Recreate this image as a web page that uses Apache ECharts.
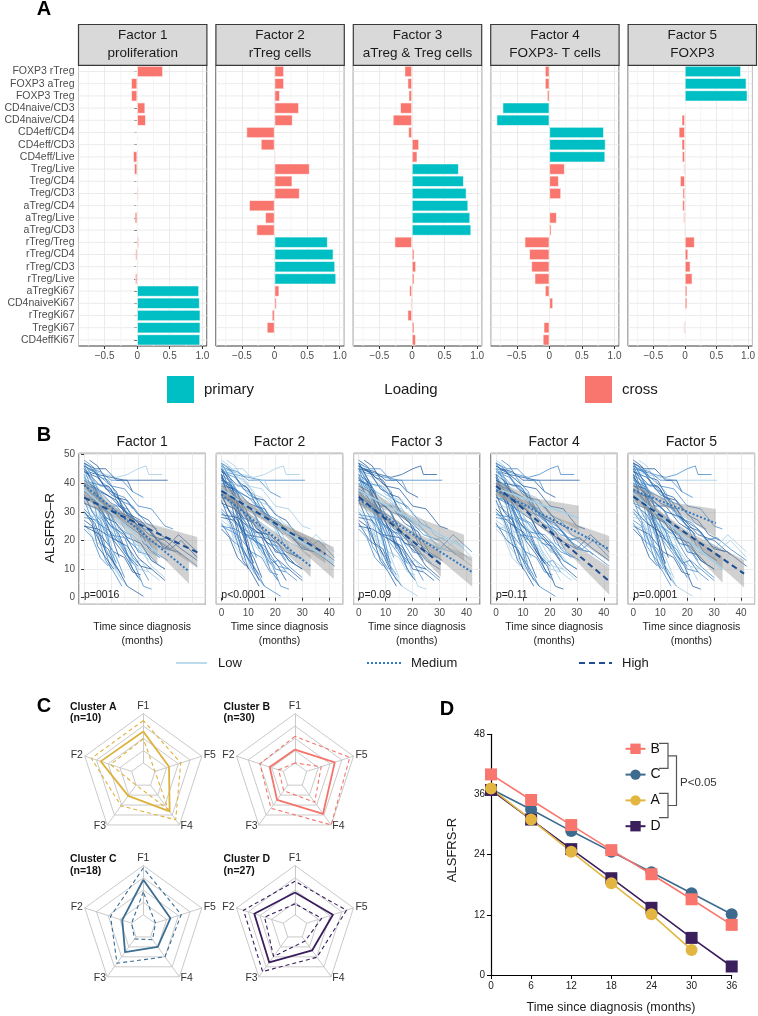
<!DOCTYPE html>
<html><head><meta charset="utf-8">
<script src="https://cdn.jsdelivr.net/npm/echarts@6/dist/echarts.min.js"></script>
<style>html,body{margin:0;padding:0;background:#fff}#c{width:758px;height:1016px}</style>
</head><body><div id="c"></div>
<script>
// ================= DATA =================
// ---- Panel A : factor loadings ----
const markers = ['FOXP3 rTreg','FOXP3 aTreg','FOXP3 Treg','CD4naive/CD3','CD4naive/CD4','CD4eff/CD4','CD4eff/CD3','CD4eff/Live','Treg/Live','Treg/CD4','Treg/CD3','aTreg/CD4','aTreg/Live','aTreg/CD3','rTreg/Treg','rTreg/CD4','rTreg/CD3','rTreg/Live','aTregKi67','CD4naiveKi67','rTregKi67','TregKi67','CD4effKi67'];
const factorNames = ['Factor 1','Factor 2','Factor 3','Factor 4','Factor 5'];
const factorSubtitles = ['proliferation','rTreg cells','aTreg & Treg cells','FOXP3- T cells','FOXP3'];
const loadingF1 = [0.395,-0.092,-0.092,0.123,0.133,0.010,0.010,-0.062,-0.046,-0.005,0.020,-0.005,-0.036,0.015,0.026,-0.026,-0.010,-0.031,0.949,0.959,0.969,0.969,0.965];
const loadingF2 = [0.144,0.144,0.082,0.374,0.277,-0.431,-0.210,0.015,0.538,0.272,0.385,-0.390,-0.144,-0.277,0.815,0.903,0.928,0.944,0.072,0.031,-0.041,-0.118,0.005];
const loadingF3 = [-0.113,-0.067,-0.051,-0.180,-0.292,-0.056,0.108,0.082,0.718,0.795,0.836,0.862,0.892,0.908,-0.267,0.036,0.062,0.036,-0.041,-0.021,-0.067,0.036,0.060];
const loadingF4 = [-0.067,-0.067,-0.036,-0.718,-0.810,0.836,0.862,0.856,0.236,0.144,0.179,-0.010,0.113,0.031,-0.379,-0.308,-0.277,-0.226,-0.067,0.056,0.015,-0.087,-0.100];
const loadingF5 = [0.887,0.974,0.990,0.010,-0.051,-0.097,-0.051,-0.046,-0.021,-0.077,-0.036,-0.041,-0.026,-0.015,0.154,0.051,0.087,0.118,0.036,0.036,0.010,-0.021,0.005];
const primaryF1 = ['aTregKi67','CD4naiveKi67','rTregKi67','TregKi67','CD4effKi67'];
const primaryF2 = ['rTreg/Treg','rTreg/CD4','rTreg/CD3','rTreg/Live'];
const primaryF3 = ['Treg/Live','Treg/CD4','Treg/CD3','aTreg/CD4','aTreg/Live','aTreg/CD3'];
const primaryF4 = ['CD4naive/CD3','CD4naive/CD4','CD4eff/CD4','CD4eff/CD3','CD4eff/Live'];
const primaryF5 = ['FOXP3 rTreg','FOXP3 aTreg','FOXP3 Treg'];
const loadingMinorTicks = [-0.75,-0.25,0.25,0.75];
const loadingLegend = ['primary','Loading','cross'];

// ---- Panel B : ALSFRS-R trajectories ----
const trajectories = [
 [[0,47],[3,45],[7,40],[10,38],[13,32],[16,31],[19,26],[23,22]],
 [[0,46],[2,42],[5,37],[7,28],[10,22],[13,14]],
 [[0,45],[4,44],[8,43],[12,42],[16,43],[20,45],[23,46],[24,43],[29,43]],
 [[1,44],[5,43],[10,42],[15,41],[20,41],[25,41],[31,41]],
 [[0,43],[2,37],[4,32],[6,22],[8,16],[10,10]],
 [[2,48],[5,46],[9,40],[12,37],[15,29],[19,26],[22,19],[25,17]],
 [[0,42],[4,38],[7,31],[10,29],[13,24],[17,22],[20,16],[24,15],[27,12]],
 [[0,40],[6,37],[12,34],[17,28],[22,26],[27,20],[31,21],[36,17],[42,13]],
 [[0,38],[5,35],[9,28],[13,26],[17,19],[21,18],[25,13],[30,10]],
 [[0,36],[3,30],[6,25],[8,17],[11,12],[14,8]],
 [[0,35],[6,32],[12,28],[18,24],[24,20],[30,17],[35,22],[42,16]],
 [[0,34],[3,27],[5,22],[8,13],[11,9],[14,4]],
 [[1,32],[5,29],[9,22],[14,19],[18,12],[21,13],[24,9]],
 [[0,30],[3,26],[5,18],[8,14],[11,10]],
 [[0,28],[5,27],[9,22],[15,21],[21,16]],
 [[0,26],[4,20],[8,17],[12,9],[16,4]],
 [[0,25],[6,22],[11,16],[15,14],[18,9],[21,8]],
 [[0,24],[3,21],[6,14],[9,11]],
 [[0,47],[2,44],[5,38],[7,34],[10,26],[13,22],[16,15],[20,11]],
 [[0,45],[3,41],[6,33],[9,29],[12,21],[15,18],[18,10],[21,6]],
 [[0,44],[5,42],[10,36],[14,34],[19,27],[24,24],[29,18],[34,16]],
 [[0,43],[4,40],[7,34],[11,31],[15,24],[19,20],[24,13]],
 [[0,41],[3,40],[6,34],[9,31],[12,24],[15,21],[18,14],[21,11],[24,6]],
 [[0,40],[4,34],[7,29],[11,20],[15,15],[20,7]],
 [[0,39],[5,38],[10,33],[15,31],[20,25],[25,23],[30,17],[35,16],[42,11]],
 [[0,37],[4,32],[8,28],[12,20],[16,17],[20,10],[24,9],[28,6]],
 [[0,37],[6,35],[12,30],[18,28],[24,22],[30,20],[36,15]],
 [[0,36],[3,30],[6,27],[9,19],[12,14],[15,7]],
 [[0,46],[4,44],[8,38],[12,36],[16,29],[20,25],[24,17],[28,14]],
 [[0,48],[3,46],[6,42],[9,41],[12,36],[15,35],[18,31]],
 [[0,42],[2,37],[4,34],[7,25],[9,20],[11,12]],
 [[0,41],[5,38],[10,35],[15,30],[21,27],[27,20],[32,17],[36,20],[42,14]],
 [[0,39],[4,37],[8,32],[12,32],[17,26],[22,23],[26,16],[31,13]],
 [[0,33],[5,31],[10,25],[15,22],[20,14],[25,10],[30,6]],
 [[0,31],[5,26],[10,23],[15,16],[19,11],[22,4],[25,3]],
 [[0,29],[6,28],[12,23],[18,22],[24,16],[29,14]],
 [[0,27],[3,25],[6,19],[9,17],[12,10]],
 [[2,45],[6,44],[10,41],[14,41],[18,37],[22,35]],
 [[0,44],[3,42],[6,39],[9,39],[12,35],[16,34],[20,29],[24,27],[28,22],[32,20]],
 [[0,38],[3,34],[6,32],[9,26],[12,23],[15,16],[18,12]],
 [[0,47],[3,42],[6,37],[9,28],[12,23],[14,17]],
 [[0,35],[4,34],[8,28],[12,26],[16,21],[21,19],[25,13],[30,10]],
 [[3,40],[8,39],[13,34],[18,32],[23,26],[27,24]],
 [[0,25],[5,24],[10,21],[16,18],[21,11],[25,10]],
 [[0,43],[2,39],[5,35],[8,25],[10,19],[12,10],[14,6]],
 [[0,46],[5,43],[10,39],[15,38],[20,32],[25,31],[30,25],[33,24]],
 [[0,30],[4,26],[8,16],[12,11],[16,4],[22,0.5]],
 [[0,45],[2,40],[4,37],[6,29],[8,25],[10,16],[12,12]],
 [[0,41],[4,39],[8,33],[12,30],[16,22],[20,18],[25,11],[30,7]],
 [[0,47],[4,45],[8,45],[12,41],[16,41],[18,37]]
];
// group of each patient per factor: 0 = Low, 1 = Medium, 2 = High
const groupF1 = [1,2,0,2,1,2,1,2,0,1, 2,1,0,2,1,0,2,1,2,1, 2,0,1,2,1,0,2,1,2,1, 0,2,1,2,1,0,2,1,2,1, 0,2,1,2,0,1,2,1,0,2];
const groupF2 = [2,1,0,1,2,0,2,1,1,2, 0,2,1,0,2,1,1,2,0,2, 1,1,2,0,2,1,0,2,1,0, 2,1,0,2,1,2,0,1,2,0, 1,2,0,1,2,0,1,2,1,0];
const groupF3 = [0,1,2,1,0,2,1,0,2,1, 1,2,0,1,2,2,0,1,1,2, 0,2,1,1,0,2,1,0,2,2, 1,0,2,1,0,1,2,2,0,1, 2,0,1,2,1,2,0,1,2,1];
const groupF4 = [1,0,1,2,2,1,0,2,1,0, 2,2,1,0,1,2,1,0,2,1, 1,2,0,2,1,0,1,2,1,0, 2,1,1,0,2,1,0,2,1,2, 0,1,2,0,1,2,1,0,2,1];
const groupF5 = [2,2,1,0,1,0,2,1,2,1, 0,1,2,1,0,1,2,2,1,0, 2,1,0,1,2,1,2,0,1,2, 1,0,2,1,2,0,1,1,2,0, 1,2,1,0,2,1,0,2,1,2];
const groupNames = ['Low','Medium','High'];
const pValues = ['p=0016','p<0.0001','p=0.09','p=0.11','p=0.0001'];
// fitted lines per factor: [xStart, yStart, xEnd, yEnd]
const fitLow    = [[0,37.8,27.2,15.6],[0,38.0,41.7,12.1],[0,37.5,39.1,17.4],[0,38.2,30.7,27.8],[0,36.5,33.1,9.8]];
const fitMedium = [[0,39.3,38.9,9.2],[0,36.0,33.1,11.0],[0,34.3,42.1,8.9],[0,37.5,42.0,17.0],[0,37.6,30.6,26.0]];
const fitHigh   = [[0,34.9,42.0,15.8],[0,37.3,38.6,15.3],[0,35.2,30.5,11.6],[0,39.0,42.0,5.8],[0,35.3,41.1,8.4]];
// confidence bands per factor: rows [x, lower, upper]
const bandLow = [
 [[0,35.4,40.2],[13.6,25.5,27.9],[27.2,11.6,19.6]],
 [[0,35.8,40.2],[20.8,23.8,26.3],[41.7,6.5,17.7]],
 [[0,35.2,39.8],[19.5,26.2,28.7],[39.1,12.8,22.0]],
 [[0,35.6,40.8],[15.3,31.5,34.5],[30.7,23.5,32.1]],
 [[0,34.3,38.7],[16.5,21.8,24.5],[33.1,5.2,14.4]]];
const bandMedium = [
 [[0,37.3,41.3],[19.4,23.1,25.4],[38.9,4.9,13.5]],
 [[0,34.0,38.0],[16.5,22.3,24.7],[33.1,7.2,14.8]],
 [[0,32.3,36.3],[21.0,20.5,22.7],[42.1,3.8,14.0]],
 [[0,35.5,39.5],[21.0,26.1,28.4],[42.0,12.5,21.5]],
 [[0,35.3,39.9],[15.3,30.5,33.1],[30.6,21.0,31.0]]];
const bandHigh = [
 [[0,32.6,37.2],[21.0,24.0,26.7],[42.0,10.4,21.2]],
 [[0,35.5,39.1],[19.3,25.3,27.3],[38.6,11.9,18.7]],
 [[0,33.2,37.2],[15.2,22.3,24.5],[30.5,7.3,15.9]],
 [[0,37.0,41.0],[21.0,21.2,23.6],[42.0,1.0,10.6]],
 [[0,33.5,37.1],[20.5,20.8,22.9],[41.1,3.6,13.2]]];
const minorMonths = [5,15,25,35];
const minorScores = [5,15,25,35,45];

// ---- Panel C : radar profiles (scale 0-10) ----
const radarAxes = ['F1','F2','F3','F4','F5'];
const clusterTitles = ['Cluster A','Cluster B','Cluster C','Cluster D'];
const clusterSizes = ['(n=10)','(n=30)','(n=18)','(n=27)'];
const clusterAMedian = [6.4,6.6,2.7,6.6,3.0], clusterAUpper = [8.6,8.6,5.2,8.7,5.5], clusterALower = [4.9,4.5,0.0,6.1,0.0];
const clusterBMedian = [2.7,2.9,3.7,7.2,6.0], clusterBUpper = [5.4,5.0,5.8,10,9.2], clusterBLower = [0.0,1.0,1.4,4.3,3.1];
const clusterCMedian = [7.1,2.0,3.8,2.5,3.3], clusterCUpper = [9.5,4.5,6.6,5.0,5.6], clusterCLower = [4.6,0.0,0.5,0.7,0.1];
const clusterDMedian = [4.5,6.2,6.4,3.4,5.6], clusterDUpper = [6.8,8.5,8.7,5.1,8.5], clusterDLower = [2.2,4.0,4.9,1.0,3.2];

// ---- Panel D : ALSFRS-R by cluster ----
const visitMonths = [0,6,12,18,24,30,36];
const scoreB = [40.0,34.9,29.9,24.9,20.1,15.1,10.0];
const scoreC = [37.1,33.0,28.7,24.6,20.5,16.3,12.1];
const scoreA = [37.2,31.0,24.6,18.3,12.1,5.0,null];
const scoreD = [36.9,31.0,25.1,19.3,13.4,7.4,1.7];
const pLabel = 'P<0.05';

// ================= STYLE / LAYOUT =================
const FONT = 'Liberation Sans, Arial, Helvetica, sans-serif';
const TEAL = '#00BFC4', SALMON = '#F8766D';
const A_LEFT0 = 78.5, A_STEP = 137.4, A_W = 128.4, A_TOP = 65.4, A_H = 280.6, STRIP_TOP = 24.5;
const B_LEFT0 = 79, B_STEP = 137.3, B_W = 126.4, B_TOP = 453.3, B_H = 151;
const lineColors = ['#9ECAE1','#3F86C8','#1F5A9E'];
const fitColors = ['#A6CFE6','#2F78C0','#1D4E92'];
const fitTypes = ['solid',[2,2],[6,4]];
const clusterColors = ['#DDB23B','#F4746B','#3B6E93','#3A1D5D'];
const radarCenters = [[143.3,775.2],[295,775.2],[143.3,927],[295,927]];
const R_OUT = 61.5;

const loadings = [loadingF1,loadingF2,loadingF3,loadingF4,loadingF5];
const primaries = [primaryF1,primaryF2,primaryF3,primaryF4,primaryF5];
const groups = [groupF1,groupF2,groupF3,groupF4,groupF5];
const fits = [fitLow,fitMedium,fitHigh];
const bands = [bandLow,bandMedium,bandHigh];
const radarData = [
  [clusterAUpper,clusterALower,clusterAMedian],
  [clusterBUpper,clusterBLower,clusterBMedian],
  [clusterCUpper,clusterCLower,clusterCMedian],
  [clusterDUpper,clusterDLower,clusterDMedian]];

const grids = [], xAxes = [], yAxes = [], series = [], graphics = [];
function txt(x, y, text, o) {
  o = o || {};
  graphics.push({type:'text', x, y, rotation:o.rotation||0, silent:true, z:10,
    style:{text, fill:o.color||'#1a1a1a', fontSize:o.size||12, fontWeight:o.weight||'normal',
      fontFamily:FONT, align:o.align||'center', verticalAlign:o.valign||'middle',
      textAlign:o.align||'center', textVerticalAlign:o.valign||'middle'}});
}
const signed = v => (v < 0 ? '\u2212' : '') + (Math.abs(v) === 1 ? '1.0' : String(Math.abs(v)));

// ---------- Panel A ----------
for (let f = 0; f < 5; f++) {
  const left = A_LEFT0 + f * A_STEP;
  grids.push({left, top:A_TOP, width:A_W, height:A_H, show:true, borderColor:'#3a3a3a', borderWidth:1, backgroundColor:'#fff'});
  xAxes.push({gridIndex:f, type:'value', min:-0.9, max:1.07, splitNumber:4,
    axisLine:{show:false}, axisTick:{show:true, length:3, lineStyle:{color:'#333'}},
    axisLabel:{fontSize:10, color:'#4D4D4D', fontFamily:FONT, margin:5, showMinLabel:false, showMaxLabel:false, formatter:signed},
    splitLine:{show:true, lineStyle:{color:'#E6E6E6', width:0.8}}});
  yAxes.push({gridIndex:f, type:'category', data:markers, inverse:true,
    axisLine:{show:false}, axisTick:{show:f===0, length:3, interval:0, alignWithLabel:true, lineStyle:{color:'#333'}},
    axisLabel:{show:f===0, interval:0, fontSize:10.5, color:'#4D4D4D', fontFamily:FONT, margin:4},
    splitLine:{show:false}});
  series.push({type:'custom', xAxisIndex:f, yAxisIndex:f, silent:true, z:1, encode:{x:0, y:1},
    data: markers.map((m, i) => [0, i]),
    renderItem:(params, api) => {
      const cs = params.coordSys; const y = api.coord([0, api.value(1)])[1];
      return {type:'line', shape:{x1:cs.x, y1:y, x2:cs.x + cs.width, y2:y}, style:{stroke:'#E6E6E6', lineWidth:0.8}};
    }});
  series.push({type:'custom', xAxisIndex:f, yAxisIndex:f, silent:true, z:1, encode:{x:0, y:1},
    data: loadingMinorTicks.map(v => [v, 0]),
    renderItem:(params, api) => {
      const cs = params.coordSys; const x = api.coord([api.value(0), 0])[0];
      return {type:'line', shape:{x1:x, y1:cs.y, x2:x, y2:cs.y + cs.height}, style:{stroke:'#F2F2F2', lineWidth:0.8}};
    }});
  series.push({type:'bar', xAxisIndex:f, yAxisIndex:f, z:3, barWidth:'90%', silent:true,
    data: loadings[f].map((v, i) => ({value:v, itemStyle:{color: primaries[f].includes(markers[i]) ? TEAL : SALMON}})),
    itemStyle:{borderColor:'#fff', borderWidth:0.6}});
  graphics.push({type:'rect', silent:true, z:5, shape:{x:left, y:STRIP_TOP, width:A_W, height:A_TOP - STRIP_TOP},
    style:{fill:'#D9D9D9', stroke:'#3a3a3a', lineWidth:1.2}});
  txt(left + A_W / 2, 35.5, factorNames[f], {size:13.5});
  txt(left + A_W / 2, 53, factorSubtitles[f], {size:13.5});
}
txt(44, 9, 'A', {size:20, weight:'bold', color:'#000'});
graphics.push({type:'rect', silent:true, shape:{x:167, y:376, width:27, height:27}, style:{fill:TEAL}});
txt(204, 390, loadingLegend[0], {size:15, align:'left'});
txt(411, 390, loadingLegend[1], {size:15});
graphics.push({type:'rect', silent:true, shape:{x:585, y:376, width:27, height:27}, style:{fill:SALMON}});
txt(622, 390, loadingLegend[2], {size:15, align:'left'});

// ---------- Panel B ----------
for (let f = 0; f < 5; f++) {
  const gi = 5 + f;
  const left = B_LEFT0 + f * B_STEP;
  grids.push({left, top:B_TOP, width:B_W, height:B_H, show:true, borderColor:'#3a3a3a', borderWidth:1, backgroundColor:'#fff'});
  xAxes.push({gridIndex:gi, type:'value', min:-1.9, max:45, splitNumber:5,
    axisLine:{show:false}, axisTick:{show:f > 0, length:3, lineStyle:{color:'#333'}},
    axisLabel:{show:f > 0, fontSize:10, color:'#4D4D4D', fontFamily:FONT, margin:4, showMinLabel:false, showMaxLabel:false},
    splitLine:{show:true, lineStyle:{color:'#E6E6E6', width:0.8}}});
  yAxes.push({gridIndex:gi, type:'value', min:-2.3, max:50.4, splitNumber:5,
    axisLine:{show:false}, axisTick:{show:f === 0, length:3, lineStyle:{color:'#333'}},
    axisLabel:{show:f === 0, fontSize:10, color:'#4D4D4D', fontFamily:FONT, margin:4, showMinLabel:false, showMaxLabel:false},
    splitLine:{show:true, lineStyle:{color:'#E6E6E6', width:0.8}}});
  series.push({type:'custom', xAxisIndex:gi, yAxisIndex:gi, silent:true, z:1, encode:{x:0, y:1},
    data: minorMonths.map(v => [v, 0]),
    renderItem:(params, api) => {
      const cs = params.coordSys; const x = api.coord([api.value(0), 0])[0];
      return {type:'line', shape:{x1:x, y1:cs.y, x2:x, y2:cs.y + cs.height}, style:{stroke:'#F3F3F3', lineWidth:0.8}};
    }});
  series.push({type:'custom', xAxisIndex:gi, yAxisIndex:gi, silent:true, z:1, encode:{x:0, y:1},
    data: minorScores.map(v => [0, v]),
    renderItem:(params, api) => {
      const cs = params.coordSys; const y = api.coord([0, api.value(1)])[1];
      return {type:'line', shape:{x1:cs.x, y1:y, x2:cs.x + cs.width, y2:y}, style:{stroke:'#F3F3F3', lineWidth:0.8}};
    }});
  trajectories.forEach((tr, p) => {
    series.push({type:'line', xAxisIndex:gi, yAxisIndex:gi, data:tr, symbol:'none', silent:true, z:2,
      lineStyle:{color:lineColors[groups[f][p]], width:0.75}});
  });
  for (let g = 0; g < 3; g++) {
    const band = bands[g][f];
    series.push({type:'custom', xAxisIndex:gi, yAxisIndex:gi, silent:true, z:3, encode:{x:0, y:[1,2]},
      data: band,
      renderItem:(params, api) => {
        if (params.dataIndex !== 0) return null;
        const up = band.map(r => api.coord([r[0], r[2]]));
        const lo = band.map(r => api.coord([r[0], r[1]])).reverse();
        return {type:'polygon', shape:{points:up.concat(lo)}, style:{fill:'rgba(145,145,145,0.42)'}};
      }});
  }
  for (let g = 0; g < 3; g++) {
    const ft = fits[g][f];
    series.push({type:'line', xAxisIndex:gi, yAxisIndex:gi, silent:true, z:4, symbol:'none',
      data:[[ft[0], ft[1]], [ft[2], ft[3]]],
      lineStyle:{color:fitColors[g], width:g === 0 ? 1.5 : 2, type:fitTypes[g]}});
  }
  txt(left + B_W / 2, 442.5, factorNames[f], {size:14});
  txt(left + 5, 595, pValues[f], {size:10.5, align:'left'});
  txt(left + B_W / 2, 627.5, 'Time since diagnosis', {size:10.5, color:'#222'});
  txt(left + B_W / 2, 641, '(months)', {size:10.5, color:'#222'});
}
txt(44, 435, 'B', {size:20, weight:'bold', color:'#000'});
txt(50, 528, 'ALSFRS\u2013R', {size:13.5, rotation:Math.PI / 2});
const legXs = [[176,207,218],[367,401,411],[579,612,622]];
legXs.forEach((lx, g) => {
  graphics.push({type:'line', silent:true, shape:{x1:lx[0], y1:663, x2:lx[1], y2:663},
    style:{stroke:fitColors[g], lineWidth:g === 0 ? 1.5 : 2, lineDash:g === 0 ? null : fitTypes[g]}});
  txt(lx[2], 663, groupNames[g], {size:13, align:'left'});
});

// ---------- Panel C ----------
const radars = radarCenters.map(c => ({
  center:c, radius:[R_OUT * 0.2, R_OUT], startAngle:90, splitNumber:4, shape:'polygon',
  indicator: radarAxes.map(n => ({name:n, min:0, max:10})),
  axisName:{color:'#333', fontSize:10.5, fontFamily:FONT}, nameGap:2,
  axisLine:{lineStyle:{color:'#CACACA', width:1}},
  splitLine:{lineStyle:{color:'#CACACA', width:1}},
  splitArea:{show:false}, axisLabel:{show:false}, axisTick:{show:false}
}));
radarData.forEach((sets, i) => {
  series.push({type:'radar', radarIndex:i, symbol:'none', silent:true, z:3,
    data:[
      {value:sets[0], lineStyle:{color:clusterColors[i], width:1.1, type:[4,3]}},
      {value:sets[1], lineStyle:{color:clusterColors[i], width:1.1, type:[4,3]}},
      {value:sets[2], lineStyle:{color:clusterColors[i], width:1.8, type:'solid'}}]});
  const tx = i % 2 === 0 ? 70 : 223.5;
  const ty = i < 2 ? 706.7 : 859.3;
  txt(tx, ty, clusterTitles[i], {size:10.5, weight:'bold', align:'left', color:'#111'});
  txt(tx, ty + 11.8, clusterSizes[i], {size:10.5, weight:'bold', align:'left', color:'#111'});
});
txt(44, 706, 'C', {size:20, weight:'bold', color:'#000'});

// ---------- Panel D ----------
grids.push({left:491, top:734.3, width:240.7, height:240.7, show:false});
xAxes.push({gridIndex:10, type:'value', min:0, max:36, interval:6,
  axisLine:{lineStyle:{color:'#000', width:1.2}}, axisTick:{length:4, lineStyle:{color:'#000'}},
  axisLabel:{fontSize:10, color:'#222', fontFamily:FONT, margin:6}, splitLine:{show:false}});
yAxes.push({gridIndex:10, type:'value', min:0, max:48, interval:12,
  axisLine:{show:true, lineStyle:{color:'#000', width:1.2}}, axisTick:{show:true, length:4, lineStyle:{color:'#000'}},
  axisLabel:{fontSize:10, color:'#222', fontFamily:FONT, margin:6}, splitLine:{show:false}});
const dSeries = [
  {name:'C', data:scoreC, color:'#3D6B8E', symbol:'circle', size:12},
  {name:'B', data:scoreB, color:'#F8766D', symbol:'rect', size:12},
  {name:'D', data:scoreD, color:'#3B1E5C', symbol:'rect', size:12},
  {name:'A', data:scoreA, color:'#E2B641', symbol:'circle', size:12}];
dSeries.forEach(s => {
  series.push({type:'line', name:s.name, xAxisIndex:10, yAxisIndex:10, z:5, silent:true,
    data: visitMonths.map((m, i) => [m, s.data[i]]).filter(p => p[1] != null),
    symbol:s.symbol, symbolSize:s.size, color:s.color,
    lineStyle:{color:s.color, width:1.6}, itemStyle:{color:s.color}});
});
txt(447, 709, 'D', {size:20, weight:'bold', color:'#000'});
txt(452, 850, 'ALSFRS-R', {size:13, rotation:Math.PI / 2});
txt(611, 1008, 'Time since diagnosis (months)', {size:12.5});
[[[659,743.3],[668,743.3],[668,768.3],[659,768.3]],
 [[659,793.3],[668,793.3],[668,817.7],[659,817.7]],
 [[668,755.8],[676.5,755.8],[676.5,805.5],[668,805.5]]].forEach(pts => {
  graphics.push({type:'polyline', silent:true, shape:{points:pts}, style:{stroke:'#555', lineWidth:1.2, fill:null}});
});
txt(680, 782.5, pLabel, {size:11.5, align:'left', color:'#333'});

const option = {
  animation:false,
  backgroundColor:'#fff',
  textStyle:{fontFamily:FONT},
  grid:grids, xAxis:xAxes, yAxis:yAxes, radar:radars,
  legend:{data:['B','C','A','D'], orient:'vertical', left:619.5, top:736.8, itemWidth:20, itemHeight:13, itemGap:11.8,
    textStyle:{fontSize:14, color:'#111', fontFamily:FONT}, selectedMode:false},
  series, graphic:{elements:graphics}
};
const chart = echarts.init(document.getElementById('c'), null, {renderer:'canvas', width:758, height:1016});
chart.setOption(option);
</script>
</body></html>
